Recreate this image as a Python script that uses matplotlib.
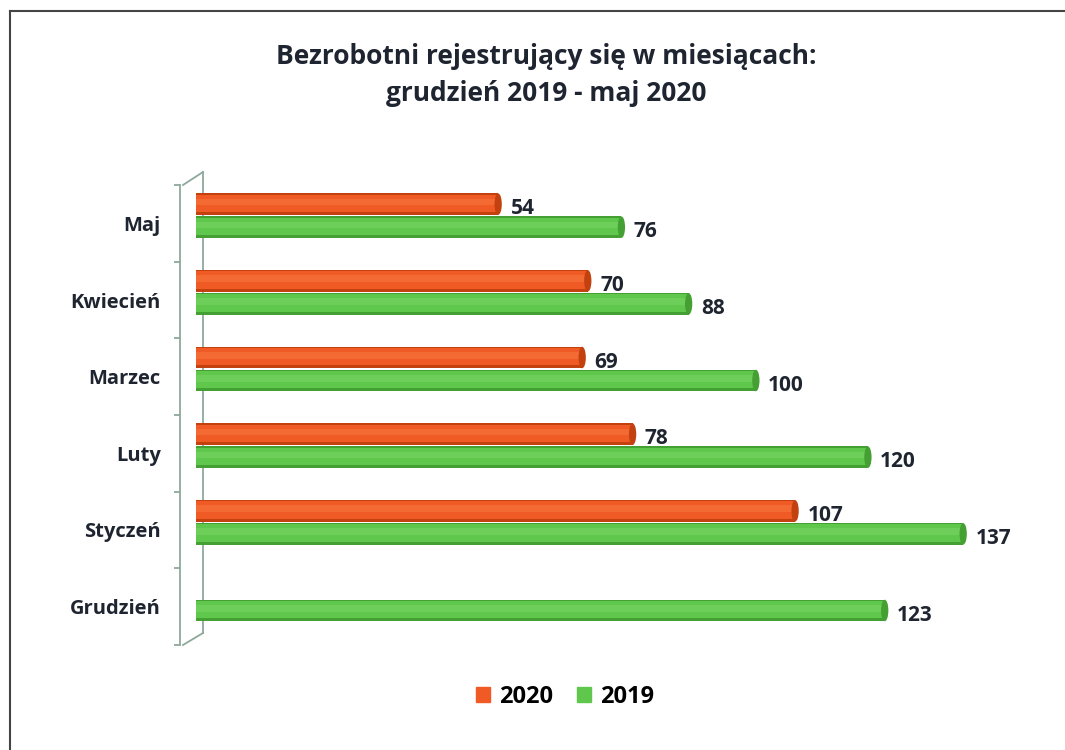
import matplotlib.pyplot as plt
import numpy as np
from matplotlib.patches import Ellipse
from matplotlib.lines import Line2D

plt.rcParams['font.family'] = ['Open Sans', 'DejaVu Sans']

# data (top to bottom as in the chart)
months = ['Maj', 'Kwiecień', 'Marzec', 'Luty', 'Styczeń', 'Grudzień']
y2020 = [54, 70, 69, 78, 107, np.nan]
y2019 = [76, 88, 100, 120, 137, 123]
series_names = ['2020', '2019']

W, H = 1065, 750
fig = plt.figure(figsize=(W / 100, H / 100), dpi=100)


def fx(x):
    return x / W


def fy(y):
    return 1 - y / H


# axes box in pixels: left 190, right ~1036, top 185, bottom 645
ax = fig.add_axes([fx(190), fy(645), fx(846), (645 - 185) / H])
ax.set_xlim(-1, 150)
ax.set_ylim(5.5, -0.5)

pos = np.arange(len(months))
h = 0.28
off_or = -0.25
off_gr = 0.05

orange = dict(dark='#c2410f', mid='#f05a24', light='#fa7f47')
green = dict(dark='#44a033', mid='#5fc84c', light='#7fd66b')


def cylinder(yc, vals, col, label):
    vals = np.asarray(vals, dtype=float)
    m = ~np.isnan(vals)
    yy = yc[m]
    vv = vals[m]
    ax.barh(yy, vv, height=h, color=col['dark'], zorder=3, label=label)
    ax.barh(yy - h * 0.04, vv, height=h * 0.82, color=col['mid'], zorder=4)
    ax.barh(yy - h * 0.1, vv, height=h * 0.3, color=col['light'], zorder=5, alpha=0.45)
    for v, y in zip(vv, yy):
        ax.add_patch(Ellipse((v, y), width=1.3, height=h, facecolor=col['dark'],
                             edgecolor='none', zorder=6))
    for v, y in zip(vv, yy):
        ax.text(v + 2.2, y + 0.06, f'{v:.0f}', va='center', ha='left',
                fontsize=15, fontweight='bold', color='#1f2530')


cylinder(pos + off_or, y2020, orange, series_names[0])
cylinder(pos + off_gr, y2019, green, series_names[1])

# axis look: only the left "wall"
for s in ['top', 'right', 'bottom']:
    ax.spines[s].set_visible(False)
ax.spines['left'].set_position(('outward', 7))
ax.spines['left'].set_color('#8fa89c')
ax.spines['left'].set_linewidth(1.3)
ax.set_xticks([])
ax.set_yticks(pos, labels=months)
ax.set_yticks(np.arange(-0.5, 6, 1), minor=True)
ax.tick_params(axis='y', which='major', length=0, pad=14, labelsize=14.5)
ax.tick_params(axis='y', which='minor', length=4, color='#8fa89c', width=1.3)
for t in ax.get_yticklabels():
    t.set_fontweight('bold')
    t.set_color('#1f2530')
ax.patch.set_alpha(0)

# 3d wall back edge
wall = '#8fa89c'
fig.add_artist(Line2D([fx(183), fx(203)], [fy(185), fy(172)], color=wall, lw=1.3, transform=fig.transFigure))
fig.add_artist(Line2D([fx(183), fx(203)], [fy(645), fy(633)], color=wall, lw=1.3, transform=fig.transFigure))
fig.add_artist(Line2D([fx(203), fx(203)], [fy(172), fy(633)], color=wall, lw=1.3, transform=fig.transFigure, zorder=0))

# title
fig.text(fx(546), fy(75), 'Bezrobotni rejestrujący się w miesiącach:\ngrudzień 2019 - maj 2020',
         ha='center', va='center', fontsize=19, fontweight='bold', color='#1f2530',
         linespacing=1.45)

# legend
hs, ls = ax.get_legend_handles_labels()
hs = [plt.Rectangle((0, 0), 1, 1, color=orange['mid']), plt.Rectangle((0, 0), 1, 1, color=green['mid'])]
fig.legend(hs, ls, loc='center', bbox_to_anchor=(fx(565), fy(697)), ncol=2, frameon=False,
           handlelength=0.6, handleheight=0.6, handletextpad=0.4, columnspacing=1.0,
           prop={'weight': 'bold', 'size': 17})

# outer frame of the scanned chart
fig.add_artist(Line2D([fx(10), fx(10)], [fy(11), 0], color='#444444', lw=1.5, transform=fig.transFigure))
fig.add_artist(Line2D([fx(10), 1], [fy(11), fy(11)], color='#444444', lw=1.5, transform=fig.transFigure))

plt.savefig('out.png', dpi=100)
